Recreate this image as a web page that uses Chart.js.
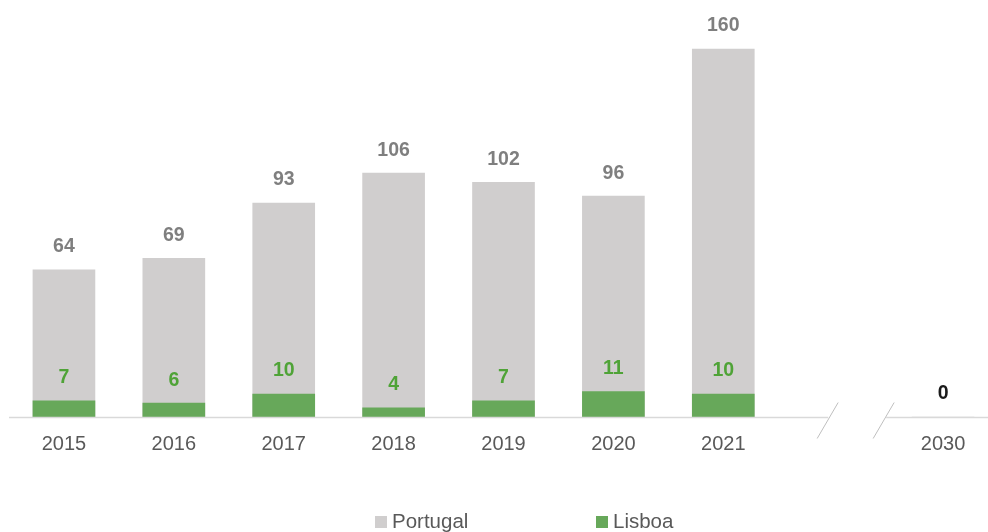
<!DOCTYPE html>
<html>
<head>
<meta charset="utf-8">
<script src="https://cdn.jsdelivr.net/npm/chart.js@4/dist/chart.umd.min.js"></script>
<style>
    html, body { margin: 0; padding: 0; background: #fff; overflow: hidden; }
    #wrap { position: relative; width: 1000px; height: 532px; }
    .legend { position: absolute; top: 509px; font: 20.5px "Liberation Sans", Arial, sans-serif; color: #595959; white-space: nowrap; }
    .legend i { display: inline-block; width: 12px; height: 12px; margin-right: 5px; vertical-align: 0px; }
</style>
</head>
<body>
<div id="wrap">
    <canvas id="chart" width="1000" height="532"></canvas>
    <div class="legend" style="left:375px"><i style="background:#d0cece"></i>Portugal</div>
    <div class="legend" style="left:596px"><i style="background:#67a85a"></i>Lisboa</div>
</div>
<script>
    // data (the empty slot is the axis break before 2030)
    var years = ['2015', '2016', '2017', '2018', '2019', '2020', '2021', '', '2030'];
    var portugal = [64, 69, 93, 106, 102, 96, 160, null, 0];
    var lisboa = [7, 6, 10, 4, 7, 11, 10, null, null];

    var greyBar = '#d0cece';
    var greenBar = '#67a85a';

    // value labels above each bar
    var valueLabels = {
        id: 'valueLabels',
        afterDatasetsDraw: function(chart) {
            var ctx = chart.ctx;
            ctx.save();
            ctx.font = 'bold 19.5px "Liberation Sans", Arial, sans-serif';
            ctx.textAlign = 'center';
            ctx.textBaseline = 'middle';
            chart.data.datasets.forEach(function(ds, i) {
                var meta = chart.getDatasetMeta(i);
                meta.data.forEach(function(bar, j) {
                    var v = ds.data[j];
                    if (v === null || v === undefined) return;
                    if (ds.label === 'Lisboa') {
                        ctx.fillStyle = '#4fa337';
                    } else {
                        ctx.fillStyle = v === 0 ? '#1a1a1a' : '#7f7f7f';
                    }
                    ctx.fillText(v, bar.x, bar.y - 23);
                });
            });
            ctx.restore();
        }
    };

    // x axis line with the break marks
    var axisBreak = {
        id: 'axisBreak',
        afterDraw: function(chart) {
            var ctx = chart.ctx;
            var area = chart.chartArea;
            var xs = chart.scales.x;
            var gx = xs.getPixelForValue(7);
            var y = area.bottom + 0.5;
            ctx.save();
            ctx.strokeStyle = '#d9d9d9';
            ctx.lineWidth = 1.5;
            ctx.beginPath();
            ctx.moveTo(area.left, y);
            ctx.lineTo(gx - 5, y);
            ctx.moveTo(gx + 53, y);
            ctx.lineTo(area.right, y);
            ctx.stroke();
            ctx.strokeStyle = '#bfbfbf';
            ctx.lineWidth = 1;
            ctx.beginPath();
            ctx.moveTo(gx - 16, y + 21);
            ctx.lineTo(gx + 5, y - 15);
            ctx.moveTo(gx + 40, y + 21);
            ctx.lineTo(gx + 61, y - 15);
            ctx.stroke();
            ctx.restore();
        }
    };

    new Chart(document.getElementById('chart'), {
        type: 'bar',
        data: {
            labels: years,
            datasets: [{
                label: 'Lisboa',
                data: lisboa,
                backgroundColor: greenBar,
                grouped: false,
                barThickness: 62
            }, {
                label: 'Portugal',
                data: portugal,
                backgroundColor: greyBar,
                grouped: false,
                barThickness: 62
            }]
        },
        options: {
            responsive: false,
            animation: false,
            layout: {
                padding: { left: 9, right: 2, top: 26, bottom: 61 }
            },
            plugins: {
                legend: { display: false },
                tooltip: { enabled: false }
            },
            scales: {
                x: {
                    grid: { display: false, drawTicks: false },
                    border: { display: false },
                    ticks: {
                        padding: 15,
                        color: '#595959',
                        font: { family: '"Liberation Sans", Arial, sans-serif', size: 20 }
                    }
                },
                y: {
                    display: false,
                    min: 0,
                    max: 170
                }
            }
        },
        plugins: [valueLabels, axisBreak]
    });
</script>
</body>
</html>
